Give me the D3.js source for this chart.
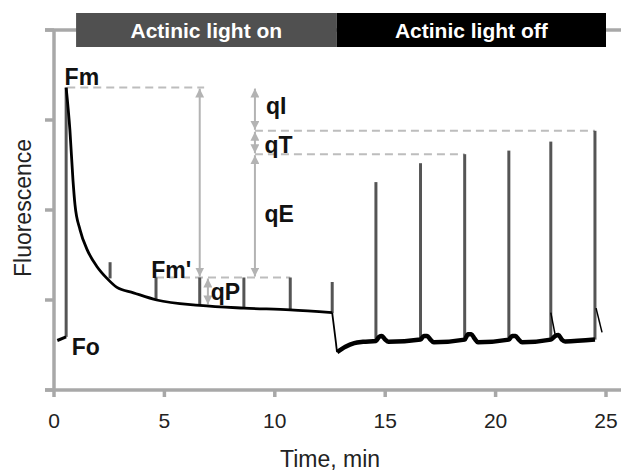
<!DOCTYPE html>
<style>
  body { margin: 0; background: #fff; }
  svg { display: block; background: #fff; font-family: "Liberation Sans", Arial, sans-serif; }
  .axis { stroke: #a8a8a8; stroke-width: 3.5; fill: none; }
  .tick-label { font-size: 21px; fill: #222; }
  .title { font-size: 23px; fill: #222; }
  .phase text { font-size: 21px; font-weight: bold; fill: #fff; }
  .pulse { stroke: #555; stroke-width: 3; }
  .trace { stroke: #000; fill: none; stroke-linejoin: round; }
  .dash { stroke: #bdbdbd; stroke-width: 2; stroke-dasharray: 8 5; }
  .arrow { stroke: #b3b3b3; stroke-width: 2; }
  .lbl { font-size: 23px; font-weight: bold; fill: #111; }
</style>
<body>
</body>
<script src="https://cdn.jsdelivr.net/npm/d3@7"></script>
<script>
  const xTicks = [0, 5, 10, 15, 20, 25];
  const yTicks = [0, 1, 2, 3, 4];

  // light phases (min)
  const phaseLabels = ['Actinic light on', 'Actinic light off'];
  const phaseStart = [1.0, 12.8];
  const phaseEnd = [12.8, 25];

  // fluorescence trace, [time, F]
  const foTrace = [[0.15, 0.55], [0.55, 0.59]];
  const lightTrace = [
    [0.55, 3.36], [0.72, 2.89], [0.86, 2.33], [0.95, 2.06], [1.18, 1.78],
    [1.5, 1.56], [1.95, 1.37], [2.4, 1.24], [2.85, 1.14], [3.6, 1.08],
    [4.65, 1.0], [6.6, 0.94], [8.6, 0.91], [10.7, 0.89], [12.6, 0.86]
  ];
  const dropTrace = [[12.6, 0.86], [12.82, 0.42]];
  const darkTrace = [
    [12.82, 0.42], [13.2, 0.48], [13.6, 0.52], [14.0, 0.535], [14.58, 0.545],
    [14.72, 0.59], [14.85, 0.6], [15.0, 0.56], [15.15, 0.535], [16.6, 0.56],
    [16.75, 0.6], [16.9, 0.6], [17.05, 0.56], [17.2, 0.53], [18.6, 0.56],
    [18.75, 0.62], [18.9, 0.62], [19.05, 0.57], [19.2, 0.53], [20.6, 0.56],
    [20.75, 0.6], [20.9, 0.6], [21.05, 0.56], [21.2, 0.53], [22.5, 0.56],
    [22.7, 0.6], [22.85, 0.61], [23.0, 0.56], [23.15, 0.54], [24.5, 0.56]
  ];
  const decayTraces = [
    [[22.5, 0.86], [22.7, 0.61]],
    [[24.55, 0.91], [24.82, 0.64]]
  ];

  // saturating pulses
  const flash = {t: 0.55, lo: 0.59, hi: 3.36};
  const pulseTimes = [2.54, 4.62, 6.6, 8.6, 10.7, 12.6, 14.58, 16.6, 18.6, 20.6, 22.5, 24.5];
  const pulseBase = [1.24, 1.0, 0.944, 0.91, 0.89, 0.856, 0.55, 0.56, 0.56, 0.56, 0.56, 0.56];
  const pulseTop = [1.42, 1.25, 1.25, 1.25, 1.25, 1.2, 2.31, 2.52, 2.62, 2.66, 2.76, 2.88];

  // reference levels
  const Fm = 3.36, FmP = 1.25, qIlevel = 2.88, qTlevel = 2.62;
  const dashes = [
    {f: Fm, t0: 0.6, t1: 6.8},
    {f: qIlevel, t0: 9.1, t1: 24.5},
    {f: qTlevel, t0: 9.1, t1: 18.6},
    {f: FmP, t0: 4.62, t1: 10.7}
  ];
  const arrows = [
    {t: 6.6, f0: Fm, f1: FmP},
    {t: 9.1, f0: Fm, f1: qIlevel},
    {t: 9.1, f0: qIlevel, f1: qTlevel},
    {t: 9.1, f0: qTlevel, f1: FmP},
    {t: 6.97, f0: FmP, f1: 0.94}
  ];
  const labels = [
    {text: 'Fm', t: 0.48, f: 3.39},
    {text: 'Fo', t: 0.8, f: 0.39},
    {text: "Fm'", t: 4.4, f: 1.24},
    {text: 'qI', t: 9.6, f: 3.07},
    {text: 'qT', t: 9.53, f: 2.63},
    {text: 'qE', t: 9.53, f: 1.87},
    {text: 'qP', t: 7.1, f: 1.0}
  ];

  const W = 621, H = 472;
  const x = d3.scaleLinear().domain([0, 25]).range([54, 606]);
  const y = d3.scaleLinear().domain([0, 4]).range([390, 30]);

  const svg = d3.select('body').append('svg')
    .attr('width', W).attr('height', H);

  const defs = svg.append('defs');
  defs.append('marker')
    .attr('id', 'head')
    .attr('viewBox', '0 0 10 10')
    .attr('refX', 10).attr('refY', 5)
    .attr('markerWidth', 9).attr('markerHeight', 9)
    .attr('markerUnits', 'userSpaceOnUse')
    .attr('orient', 'auto-start-reverse')
    .append('path').attr('d', 'M0,0L10,5L0,10Z').attr('fill', '#b3b3b3');

  // axes
  const ax = svg.append('g');
  ax.append('line').attr('class', 'axis')
    .attr('x1', x(0)).attr('x2', x(0)).attr('y1', y(4)).attr('y2', y(0));
  ax.append('line').attr('class', 'axis')
    .attr('x1', x(0) - 9).attr('x2', W).attr('y1', y(0)).attr('y2', y(0));
  ax.append('line').attr('class', 'axis')
    .attr('x1', x(0) - 9).attr('x2', W).attr('y1', y(4)).attr('y2', y(4));
  ax.selectAll('.ytick').data(yTicks).join('line').attr('class', 'axis ytick')
    .attr('x1', x(0) - 9).attr('x2', x(0)).attr('y1', d => y(d)).attr('y2', d => y(d));
  ax.selectAll('.xtick').data(xTicks).join('line').attr('class', 'axis xtick')
    .attr('x1', d => x(d)).attr('x2', d => x(d)).attr('y1', y(0)).attr('y2', y(0) + 7);
  ax.selectAll('.tick-label').data(xTicks).join('text').attr('class', 'tick-label')
    .attr('x', d => x(d)).attr('y', y(0) + 38)
    .attr('text-anchor', 'middle').text(d => d);

  svg.append('text').attr('class', 'title')
    .attr('x', 330).attr('y', 467).attr('text-anchor', 'middle').text('Time, min');
  svg.append('text').attr('class', 'title')
    .attr('transform', `translate(31, 208) rotate(-90)`)
    .attr('text-anchor', 'middle').text('Fluorescence');

  // phase bars
  const phase = svg.append('g').attr('class', 'phase');
  const phaseColors = ['#505050', '#000'];
  phaseLabels.forEach((lab, i) => {
    phase.append('rect')
      .attr('x', x(phaseStart[i])).attr('width', x(phaseEnd[i]) - x(phaseStart[i]))
      .attr('y', 13).attr('height', 34).attr('fill', phaseColors[i]);
    phase.append('text')
      .attr('x', (x(phaseStart[i]) + x(phaseEnd[i])) / 2).attr('y', 38)
      .attr('text-anchor', 'middle').text(lab);
  });

  // dashed reference lines
  svg.append('g').selectAll('line').data(dashes).join('line').attr('class', 'dash')
    .attr('x1', d => x(d.t0)).attr('x2', d => x(d.t1))
    .attr('y1', d => y(d.f)).attr('y2', d => y(d.f));

  // arrows
  svg.append('g').selectAll('line').data(arrows).join('line').attr('class', 'arrow')
    .attr('x1', d => x(d.t)).attr('x2', d => x(d.t))
    .attr('y1', d => y(d.f0) + 1).attr('y2', d => y(d.f1) - 1)
    .attr('marker-start', 'url(#head)').attr('marker-end', 'url(#head)');

  // pulses
  const pulses = pulseTimes.map((t, i) => ({t, lo: pulseBase[i], hi: pulseTop[i]}));
  pulses.push(flash);
  svg.append('g').selectAll('line').data(pulses).join('line').attr('class', 'pulse')
    .attr('x1', d => x(d.t)).attr('x2', d => x(d.t))
    .attr('y1', d => y(d.lo)).attr('y2', d => y(d.hi));

  // traces
  const line = d3.line().x(d => x(d[0])).y(d => y(d[1]));
  const tr = svg.append('g');
  tr.append('path').attr('class', 'trace').attr('stroke-width', 3).attr('d', line(foTrace));
  tr.append('path').attr('class', 'trace').attr('stroke-width', 2.8)
    .attr('d', line.curve(d3.curveMonotoneX)(lightTrace));
  line.curve(d3.curveLinear);
  tr.append('path').attr('class', 'trace').attr('stroke-width', 1.8).attr('d', line(dropTrace));
  tr.append('path').attr('class', 'trace').attr('stroke-width', 4.5)
    .attr('d', line.curve(d3.curveMonotoneX)(darkTrace));
  line.curve(d3.curveLinear);
  decayTraces.forEach(d => {
    tr.append('path').attr('class', 'trace').attr('stroke-width', 1.5).attr('d', line(d));
  });

  // labels
  svg.append('g').selectAll('text').data(labels).join('text').attr('class', 'lbl')
    .attr('x', d => x(d.t)).attr('y', d => y(d.f)).text(d => d.text);
</script>
